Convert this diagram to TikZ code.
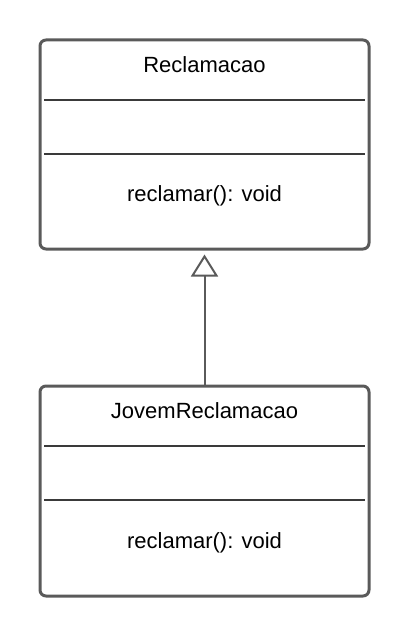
\documentclass[tikz,border=0pt]{standalone}
\usepackage{fontspec}
\setmainfont{Liberation Sans}
\usetikzlibrary{arrows.meta}
\definecolor{umlgray}{HTML}{5A5A5A}
\definecolor{divgray}{HTML}{3A3A3A}
\tikzset{
  classbox/.style={draw=umlgray, line width=3pt, rounded corners=6pt, minimum width=329pt, inner sep=0pt},
  lbl/.style={font=\fontsize{22}{26}\selectfont, text=black, inner sep=0pt, anchor=center},
  divider/.style={draw=divgray, line width=1.5pt},
  inherit/.style={draw=umlgray, line width=2pt, -{Triangle[open, length=22pt, width=27pt, line width=2pt, fill=white]}}
}
\begin{document}
\begin{tikzpicture}[x=1pt,y=-1pt]
\useasboundingbox (0,0) rectangle (409,636);
\node[classbox, minimum height=209pt] (top) at (204.5,144.5) {};
\node[classbox, minimum height=210pt] (bot) at (204.5,491) {};
\node[lbl] (tname) at (204.5,65) {Reclamacao};
\node[lbl] (top1) at (204.5,196) {reclamar(): void};
\node[lbl] (bname) at (204.5,411) {JovemReclamacao};
\node[lbl] (bop1) at (204.5,543) {reclamar(): void};
\coordinate (t1l) at (44,100); \coordinate (t1r) at (365,100);
\coordinate (t2l) at (44,154); \coordinate (t2r) at (365,154);
\coordinate (b1l) at (44,446); \coordinate (b1r) at (365,446);
\coordinate (b2l) at (44,500); \coordinate (b2r) at (365,500);
\draw[divider] (t1l) -- (t1r);
\draw[divider] (t2l) -- (t2r);
\draw[divider] (b1l) -- (b1r);
\draw[divider] (b2l) -- (b2r);
\draw[inherit] (bot.north) -- ([yshift=-4pt]top.south);
\end{tikzpicture}
\end{document}
